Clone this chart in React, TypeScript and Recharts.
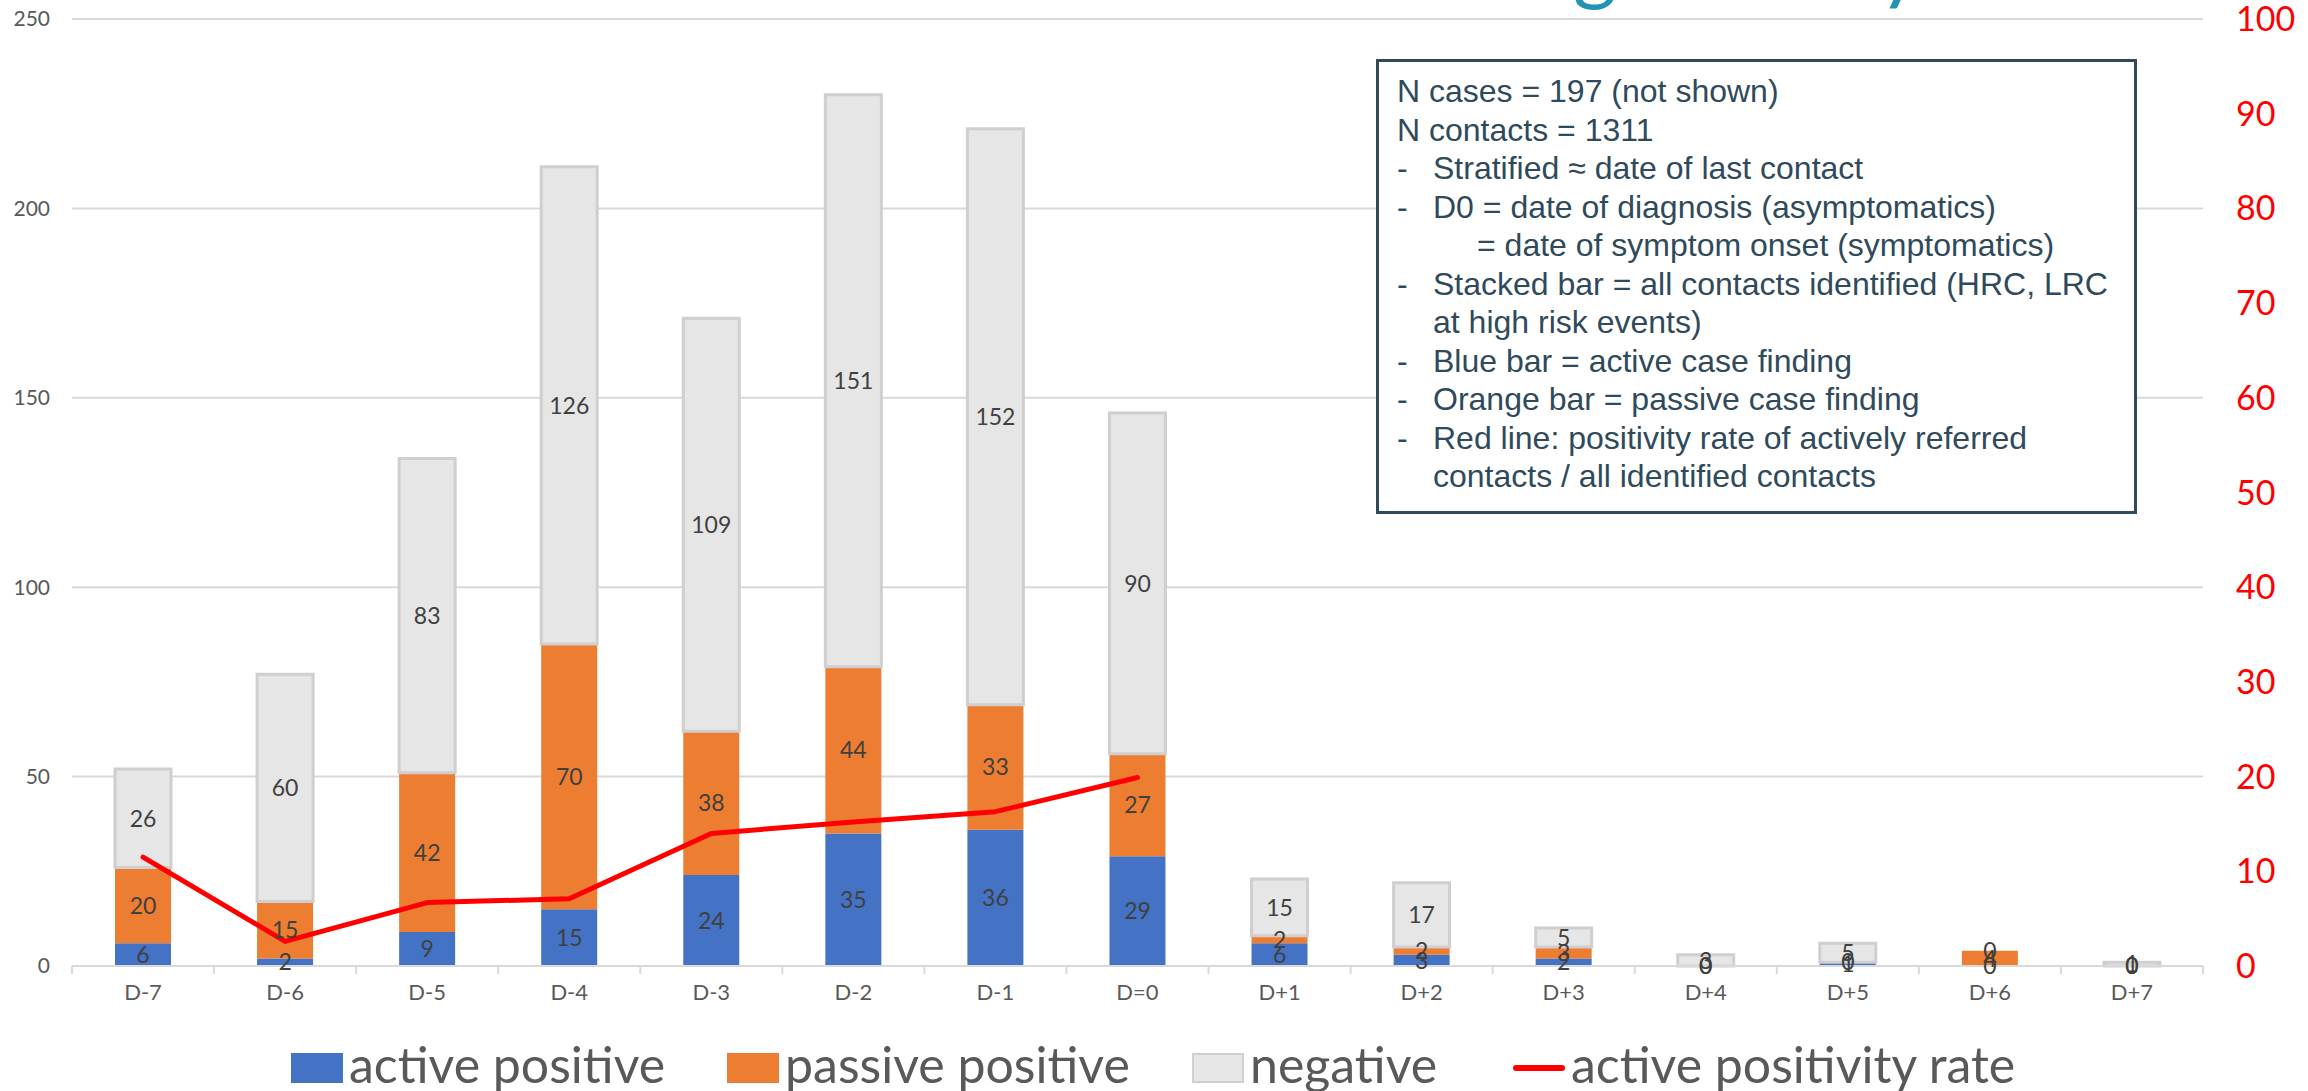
import React from "react";
import {
  ComposedChart,
  Bar,
  Line,
  XAxis,
  YAxis,
  CartesianGrid,
} from "recharts";

// ---- data ----
const days = [
  "D-7", "D-6", "D-5", "D-4", "D-3", "D-2", "D-1", "D=0",
  "D+1", "D+2", "D+3", "D+4", "D+5", "D+6", "D+7",
];
const activePositive = [6, 2, 9, 15, 24, 35, 36, 29, 6, 3, 2, 0, 1, 0, 0];
const passivePositive = [20, 15, 42, 70, 38, 44, 33, 27, 2, 2, 3, 0, 0, 4, 0];
const negative = [26, 60, 83, 126, 109, 151, 152, 90, 15, 17, 5, 3, 5, 0, 1];
const activePositivityRate: (number | null)[] = [
  11.5, 2.6, 6.7, 7.1, 14.0, 15.2, 16.3, 19.9,
  null, null, null, null, null, null, null,
];
const countTicks = [0, 50, 100, 150, 200, 250];
const rateTicks = [0, 10, 20, 30, 40, 50, 60, 70, 80, 90, 100];

const seriesNames = {
  active: "active positive",
  passive: "passive positive",
  negative: "negative",
  rate: "active positivity rate",
};

const titleText = "Active case finding efficacy";

const noteLines = [
  { bullet: "", text: "N cases = 197 (not shown)", level: 0 },
  { bullet: "", text: "N contacts = 1311", level: 0 },
  { bullet: "-", text: "Stratified \u2248 date of last contact", level: 1 },
  { bullet: "-", text: "D0 = date of diagnosis (asymptomatics)", level: 1 },
  { bullet: "", text: "= date of symptom onset (symptomatics)", level: 2 },
  { bullet: "-", text: "Stacked bar = all contacts identified (HRC, LRC", level: 1 },
  { bullet: "", text: "at high risk events)", level: 1 },
  { bullet: "-", text: "Blue bar = active case finding", level: 1 },
  { bullet: "-", text: "Orange bar = passive case finding", level: 1 },
  { bullet: "-", text: "Red line: positivity rate of actively referred", level: 1 },
  { bullet: "", text: "contacts / all identified contacts", level: 1 },
];

// each row also carries the mid-height of every stacked segment, used to place the value labels
const rows = days.map((day, i) => {
  const a = activePositive[i];
  const p = passivePositive[i];
  const n = negative[i];
  return {
    day,
    active: a,
    passive: p,
    negative: n,
    rate: activePositivityRate[i],
    activeMid: a / 2,
    passiveMid: a + p / 2,
    negativeMid: a + p + n / 2,
  };
});

// ---- layout & style ----
const PAGE_W = 2308;
const PAGE_H = 1091;
const CHART_W = 2308;
const CHART_H = 1026;
const LEFT_AXIS_W = 72;
const RIGHT_AXIS_W = 105;
const PLOT_W = CHART_W - LEFT_AXIS_W - RIGHT_AXIS_W;
const BAND = PLOT_W / days.length;

const BLUE = "#4472C4";
const ORANGE = "#ED7D31";
const GREY = "#E7E6E6";
const GREY_EDGE = "#D0CECE";
const RED = "#FF0000";
const GRID = "#D9D9D9";
const AXIS_TEXT = "#595959";
const LABEL_TEXT = "#404040";
const NOTE = "#2F4A5B";
const TITLE = "#2492B5";
const FONT = "Lato, 'Open Sans', sans-serif";

const legendItems = [
  { label: seriesNames.active, kind: "box", fill: BLUE, stroke: "none", left: 291 },
  { label: seriesNames.passive, kind: "box", fill: ORANGE, stroke: "none", left: 727 },
  { label: seriesNames.negative, kind: "box", fill: GREY, stroke: GREY_EDGE, left: 1192 },
  { label: seriesNames.rate, kind: "line", fill: RED, stroke: "none", left: 1513 },
];

const segmentLabels = [
  { key: "activeMid", values: activePositive },
  { key: "passiveMid", values: passivePositive },
  { key: "negativeMid", values: negative },
];

function DayTick(props: any) {
  const { x, y, payload, index } = props;
  const last = index === days.length - 1;
  return (
    <g>
      <line x1={x - BAND / 2} x2={x - BAND / 2} y1={y} y2={y + 8} stroke={GRID} strokeWidth={2} />
      {last && (
        <line x1={x + BAND / 2} x2={x + BAND / 2} y1={y} y2={y + 8} stroke={GRID} strokeWidth={2} />
      )}
      <text
        x={x}
        y={y + 34}
        textAnchor="middle"
        fill={AXIS_TEXT}
        fontSize={22}
        fontFamily={FONT}
      >
        {payload.value}
      </text>
    </g>
  );
}

const makeValueLabel = (values: number[], key: string) => (p: any) => (
  <text
    key={`${key}-${p.index}`}
    x={p.cx}
    y={p.cy}
    dy="0.36em"
    textAnchor="middle"
    fill={LABEL_TEXT}
    fontSize={23}
    fontFamily={FONT}
  >
    {values[p.index]}
  </text>
);

export default function App() {
  return (
    <div
      style={{
        position: "absolute",
        left: 0,
        top: 0,
        width: PAGE_W,
        height: PAGE_H,
        overflow: "hidden",
        background: "#fff",
        fontFamily: FONT,
      }}
    >
      {/* slide title, mostly above the visible area */}
      <div
        style={{
          position: "absolute",
          right: PAGE_W - 1922,
          top: -80,
          fontSize: 84,
          lineHeight: "84px",
          color: TITLE,
          whiteSpace: "nowrap",
          fontFamily: FONT,
        }}
      >
        {titleText}
      </div>

      <div style={{ position: "absolute", left: 0, top: 0 }}>
        <ComposedChart
          width={CHART_W}
          height={CHART_H}
          data={rows}
          margin={{ top: 19, right: 0, bottom: 0, left: 0 }}
          barCategoryGap={0}
        >
          <CartesianGrid
            yAxisId="count"
            vertical={false}
            stroke={GRID}
            strokeWidth={2}
          />
          <XAxis
            dataKey="day"
            height={60}
            interval={0}
            tickSize={0}
            tickMargin={0}
            tickLine={false}
            axisLine={{ stroke: GRID, strokeWidth: 2 }}
            tick={<DayTick />}
          />
          <YAxis
            yAxisId="count"
            orientation="left"
            width={LEFT_AXIS_W}
            domain={[0, 250]}
            ticks={countTicks}
            interval={0}
            axisLine={false}
            tickLine={false}
            tickSize={0}
            tickMargin={22}
            tick={{ fill: AXIS_TEXT, fontSize: 21, fontFamily: FONT }}
          />
          <YAxis
            yAxisId="rate"
            orientation="right"
            width={RIGHT_AXIS_W}
            domain={[0, 100]}
            ticks={rateTicks}
            interval={0}
            axisLine={false}
            tickLine={false}
            tickSize={0}
            tickMargin={33}
            tick={{ fill: RED, fontSize: 34, fontFamily: FONT }}
          />
          <Bar
            yAxisId="count"
            dataKey="active"
            name={seriesNames.active}
            stackId="contacts"
            fill={BLUE}
            barSize={56}
            isAnimationActive={false}
          />
          <Bar
            yAxisId="count"
            dataKey="passive"
            name={seriesNames.passive}
            stackId="contacts"
            fill={ORANGE}
            barSize={56}
            isAnimationActive={false}
          />
          <Bar
            yAxisId="count"
            dataKey="negative"
            name={seriesNames.negative}
            stackId="contacts"
            fill={GREY}
            stroke={GREY_EDGE}
            strokeWidth={3}
            barSize={56}
            isAnimationActive={false}
          />
          <Line
            yAxisId="rate"
            dataKey="rate"
            name={seriesNames.rate}
            type="linear"
            stroke={RED}
            strokeWidth={5}
            strokeLinecap="round"
            strokeLinejoin="round"
            dot={false}
            activeDot={false}
            connectNulls={false}
            isAnimationActive={false}
          />
          {segmentLabels.map((s) => (
            <Line
              key={s.key}
              yAxisId="count"
              dataKey={s.key}
              stroke="none"
              strokeWidth={0}
              dot={makeValueLabel(s.values, s.key)}
              activeDot={false}
              legendType="none"
              isAnimationActive={false}
            />
          ))}
        </ComposedChart>
      </div>

      {/* notes box */}
      <div
        style={{
          position: "absolute",
          left: 1376,
          top: 59,
          width: 761,
          height: 455,
          boxSizing: "border-box",
          border: `3px solid ${NOTE}`,
          background: "#fff",
          color: NOTE,
          fontFamily: "'Liberation Sans', Arial, sans-serif",
          fontSize: 32,
          lineHeight: "38.5px",
          paddingTop: 10,
        }}
      >
        {noteLines.map((ln, i) => (
          <div key={i} style={{ position: "relative", height: 38.5, whiteSpace: "nowrap" }}>
            {ln.bullet && (
              <span style={{ position: "absolute", left: 18 }}>{ln.bullet}</span>
            )}
            <span
              style={{
                position: "absolute",
                left: ln.level === 0 ? 18 : ln.level === 1 ? 54 : 98,
              }}
            >
              {ln.text}
            </span>
          </div>
        ))}
      </div>

      {/* legend */}
      {legendItems.map((it, i) => (
        <div
          key={i}
          style={{
            position: "absolute",
            left: it.left,
            top: 1038,
            height: 60,
            display: "flex",
            alignItems: "flex-start",
            whiteSpace: "nowrap",
          }}
        >
          {it.kind === "box" ? (
            <div
              style={{
                marginTop: 15,
                width: 52,
                height: 30,
                boxSizing: "border-box",
                background: it.fill,
                border: it.stroke === "none" ? "none" : `2px solid ${it.stroke}`,
              }}
            />
          ) : (
            <div
              style={{
                marginTop: 27,
                width: 52,
                height: 6,
                borderRadius: 3,
                background: it.fill,
              }}
            />
          )}
          <div
            style={{
              marginLeft: 6,
              fontSize: 50,
              lineHeight: "50px",
              marginTop: 1,
              color: AXIS_TEXT,
              fontFamily: FONT,
            }}
          >
            {it.label}
          </div>
        </div>
      ))}
    </div>
  );
}
